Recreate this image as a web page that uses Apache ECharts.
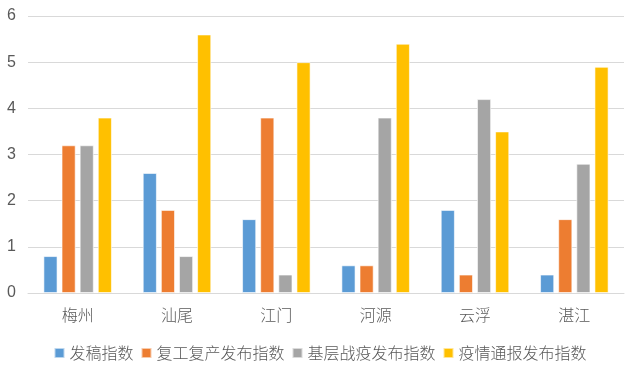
<!DOCTYPE html>
<html><head><meta charset="utf-8">
<script src="https://cdn.jsdelivr.net/npm/echarts@6/dist/echarts.min.js"></script>
<style>html,body{margin:0;padding:0;background:#fff}#c{width:640px;height:374px}</style>
</head><body><div id="c"></div>
<script>
var categories = ['梅州','汕尾','江门','河源','云浮','湛江'];
var seriesNames = ['发稿指数','复工复产发布指数','基层战疫发布指数','疫情通报发布指数'];
var s1 = [0.8, 2.6, 1.6, 0.6, 1.8, 0.4];
var s2 = [3.2, 1.8, 3.8, 0.6, 0.4, 1.6];
var s3 = [3.2, 0.8, 0.4, 3.8, 4.2, 2.8];
var s4 = [3.8, 5.6, 5.0, 5.4, 3.5, 4.9];
var colors = ['#5B9BD5','#ED7D31','#A5A5A5','#FFC000'];
var font = '"Noto Sans CJK SC", "Noto Sans", sans-serif';
var chart = echarts.init(document.getElementById('c'));
var data = [s1,s2,s3,s4];
chart.setOption({
  animation:false,
  color: colors,
  textStyle:{fontFamily:font},
  grid:{left:28,right:16,top:16,bottom:81},
  legend:{bottom:8,left:'center',itemWidth:10,itemHeight:10,itemGap:7,icon:'rect',
    textStyle:{color:'#595959',fontSize:16,fontFamily:font,fontWeight:300}, data:seriesNames},
  xAxis:{type:'category',data:categories,axisTick:{show:false},
    axisLine:{lineStyle:{color:'#d9d9d9',width:1}},
    axisLabel:{color:'#595959',fontSize:16,margin:14,fontFamily:font,fontWeight:300}},
  yAxis:{type:'value',min:0,max:6,interval:1,
    axisLabel:{color:'#595959',fontSize:16,margin:12,fontFamily:'"Liberation Sans", sans-serif'},
    splitLine:{lineStyle:{color:'#d9d9d9',width:1}}},
  series: data.map(function(d,i){return {name:seriesNames[i],type:'bar',data:d,barGap:'28%',barCategoryGap:'31%',
    itemStyle:{borderColor:'rgba(255,255,255,0.6)',borderWidth:1}};})
});
</script></body></html>
